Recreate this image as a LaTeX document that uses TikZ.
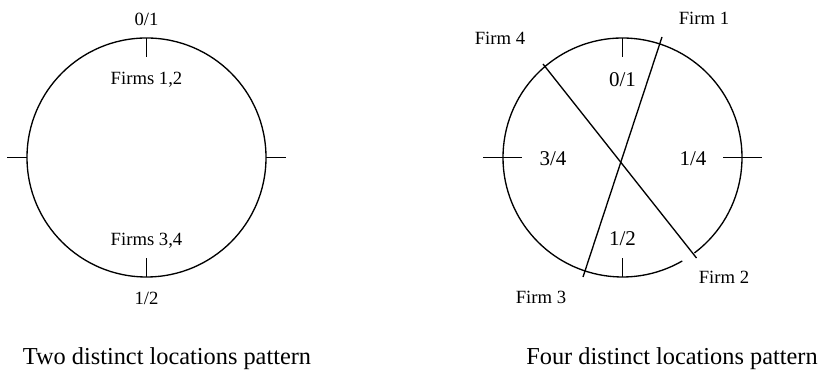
\documentclass[tikz,border=0pt]{standalone}
\usepackage{fontspec}
\setmainfont{Liberation Serif}
\begin{document}
\begin{tikzpicture}[x=0.6pt,y=0.6pt,line width=0.8pt,
  lbl/.style={font=\fontsize{11.2}{13}\selectfont},
  frac/.style={font=\fontsize{12.6}{15}\selectfont},
  capt/.style={font=\fontsize{14.6}{17}\selectfont,anchor=base}]
  \useasboundingbox (0,0) rectangle (818,374);
  % two distinct locations
  \begin{scope}[shift={(146.5,216.5)}]
    \draw (0,0) circle (119.5);
    \draw (0,119.5) -- (0,100.5);
    \draw (0,-119.5) -- (0,-100.5);
    \draw (-119.5,0) -- (-139.5,0);
    \draw (119.5,0) -- (139.5,0);
    \node[lbl] (top2) at (0,138.5) {0/1};
    \node[lbl] (f12) at (0,77.5) {Firms 1,2};
    \node[lbl] (f34) at (0,-83.5) {Firms 3,4};
    \node[lbl] (bot2) at (0,-140.5) {1/2};
  \end{scope}
  % four distinct locations
  \begin{scope}[shift={(622.5,216.5)}]
    \draw (-53:119.5) arc[start angle=-53, end angle=300, radius=119.5];
    \draw (0,119.5) -- (0,100.5);
    \draw (0,-119.5) -- (0,-100.5);
    \draw (-139.5,0) -- (-100.5,0);
    \draw (100.5,0) -- (139.5,0);
    \coordinate (e1) at (39.5,120.5);
    \coordinate (e3) at (-39.5,-119.5);
    \coordinate (e4) at (-79.5,93.5);
    \coordinate (e2) at (74,-100.5);
    \draw (e1) -- (e3);
    \draw (e4) -- (e2);
    \node[frac] (top4) at (0,77.5) {0/1};
    \node[frac] (left4) at (-69.5,-1.5) {3/4};
    \node[frac] (right4) at (70.5,-1.5) {1/4};
    \node[frac] (bot4) at (0,-81.5) {1/2};
    \node[lbl] (firm1) at (81.5,139.5) {Firm 1};
    \node[lbl] (firm2) at (101.5,-119.5) {Firm 2};
    \node[lbl] (firm3) at (-81.5,-139.5) {Firm 3};
    \node[lbl] (firm4) at (-122.5,119.5) {Firm 4};
  \end{scope}
  \node[capt] (cap2) at (167,9) {Two distinct locations pattern};
  \node[capt] (cap4) at (672,9) {Four distinct locations pattern};
\end{tikzpicture}
\end{document}
